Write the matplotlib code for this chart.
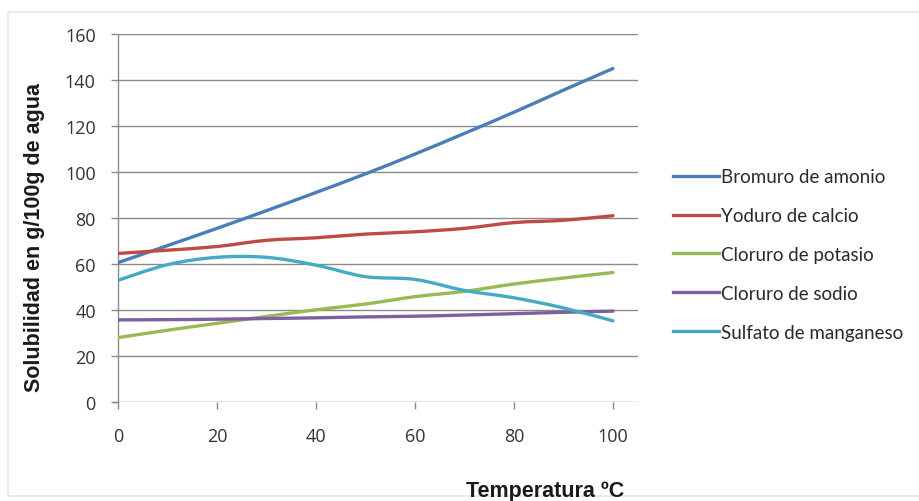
import matplotlib
matplotlib.use("Agg")
import matplotlib.pyplot as plt
import numpy as np
from matplotlib.path import Path
from matplotlib.patches import PathPatch
from matplotlib.lines import Line2D

# Temperature (ºC) and solubility (g / 100 g water)
temperatura = [0, 10, 20, 30, 40, 50, 60, 70, 80, 90, 100]
bromuro_amonio = [60.6, 68.0, 75.5, 83.2, 91.1, 99.2, 107.8, 116.8, 126.0, 135.6, 145.0]
yoduro_calcio = [64.6, 66.0, 67.6, 70.3, 71.4, 73.0, 74.0, 75.5, 78.0, 79.0, 81.0]
cloruro_potasio = [28.0, 31.2, 34.2, 37.2, 40.1, 42.6, 45.8, 48.1, 51.3, 53.9, 56.3]
cloruro_sodio = [35.7, 35.8, 36.0, 36.3, 36.6, 37.0, 37.3, 37.8, 38.4, 39.0, 39.5]
sulfato_manganeso = [52.9, 59.7, 62.9, 62.9, 59.5, 54.5, 53.3, 48.5, 45.3, 40.9, 35.3]

series_names = ["Bromuro de amonio", "Yoduro de calcio", "Cloruro de potasio",
                "Cloruro de sodio", "Sulfato de manganeso"]
series_values = [bromuro_amonio, yoduro_calcio, cloruro_potasio,
                 cloruro_sodio, sulfato_manganeso]
colors = ["#4A7EBB", "#BE4B48", "#98B954", "#7D60A0", "#46AAC5"]

y_ticks = [0, 20, 40, 60, 80, 100, 120, 140, 160]
x_ticks = [0, 20, 40, 60, 80, 100]


def smooth_path(xs, ys, k=1.0 / 6.0):
    """Catmull-Rom style smoothed path through the given points (cubic Bezier)."""
    pts = np.column_stack([np.asarray(xs, float), np.asarray(ys, float)])
    n = len(pts)
    verts = [pts[0]]
    codes = [Path.MOVETO]
    for i in range(n - 1):
        p0 = pts[i - 1] if i > 0 else pts[i]
        p1 = pts[i]
        p2 = pts[i + 1]
        p3 = pts[i + 2] if i + 2 < n else pts[i + 1]
        verts += [p1 + (p2 - p0) * k, p2 - (p3 - p1) * k, p2]
        codes += [Path.CURVE4] * 3
    return Path(verts, codes)


W, H = 919, 502
fig = plt.figure(figsize=(W / 100, H / 100), dpi=100)
fig.patch.set_facecolor("white")

# Light chart-area frame
frame = plt.Rectangle((8 / W, 1 - 497 / H), (W + 20) / W, (497 - 13) / H,
                      transform=fig.transFigure, fill=False,
                      edgecolor="#e6e6e6", linewidth=1.2, zorder=0)
fig.patches.append(frame)

ax = fig.add_axes([118 / W, 1 - 403 / H, (638 - 118) / W, (403 - 35) / H])
ax.set_xlim(0, 105.05)
ax.set_ylim(0, 160)

grid_color = "#8a8a8a"
for yv in y_ticks:
    ax.axhline(yv, color=grid_color, linewidth=1.0, zorder=1)

for name, vals, col in zip(series_names, series_values, colors):
    patch = PathPatch(smooth_path(temperatura, vals), facecolor="none",
                      edgecolor=col, linewidth=2.4, capstyle="round",
                      joinstyle="round", zorder=3, label=name)
    ax.add_patch(patch)

for side in ["top", "right", "bottom"]:
    ax.spines[side].set_visible(False)
ax.spines["left"].set_color(grid_color)
ax.spines["left"].set_linewidth(1.0)

ax.set_xticks(x_ticks)
ax.set_yticks(y_ticks)
ax.tick_params(axis="both", colors=grid_color, length=5, width=1.0,
               labelcolor="#333333", labelsize=13)
ax.tick_params(axis="x", pad=13)
ax.tick_params(axis="y", pad=11)
for lbl in ax.get_xticklabels() + ax.get_yticklabels():
    lbl.set_fontfamily("Open Sans")

# x-axis line continues a little left of the origin, like the y tick marks
ax.plot([-1.0, 0], [0, 0], color=grid_color, linewidth=1.0, clip_on=False, zorder=1)

fig.text(35 / W, 1 - 238 / H, "Solubilidad en g/100g de agua", rotation=90,
         ha="center", va="center", fontsize=15.5, fontweight="bold",
         family="Liberation Sans", color="#1a1a1a")
fig.text(545 / W, 1 - 492 / H, "Temperatura ºC", ha="center", va="center",
         fontsize=15.5, fontweight="bold", family="Liberation Sans", color="#1a1a1a")

handles = [Line2D([0], [0], color=c, linewidth=2.4) for c in colors]
leg = fig.legend(handles, series_names, loc="center left",
                 bbox_to_anchor=(656 / W, 1 - 255.5 / H), frameon=False,
                 handlelength=2.45, handletextpad=0.1, labelspacing=1.17,
                 prop={"family": "Lato", "size": 13.5})
for t in leg.get_texts():
    t.set_color("#2a2a2a")

fig.savefig("out.png", dpi=100, facecolor="white")
